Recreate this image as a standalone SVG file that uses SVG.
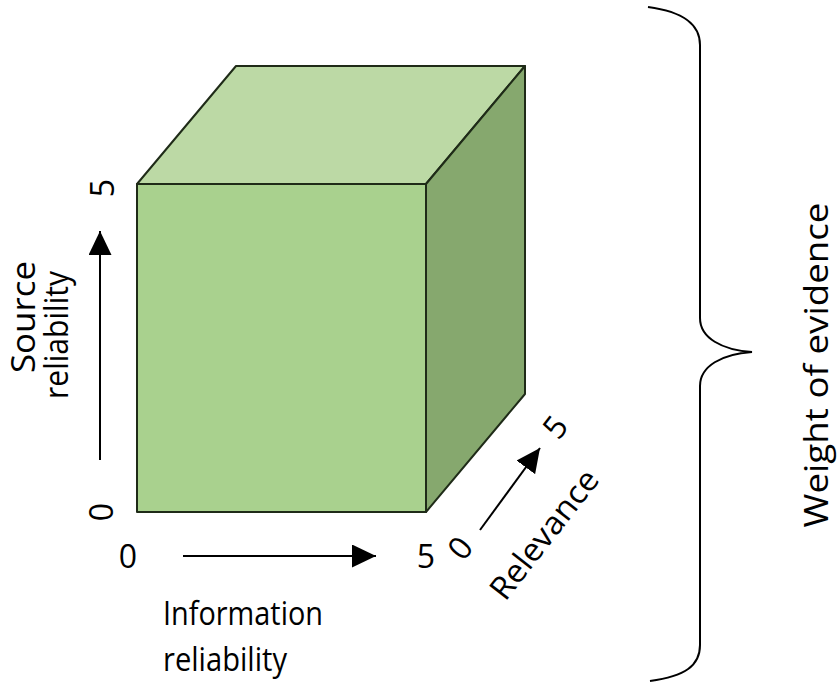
<svg xmlns="http://www.w3.org/2000/svg" width="837" height="685" viewBox="0 0 837 685">
  <style>
    .face { stroke: #1f2b18; stroke-width: 2; stroke-linejoin: round; }
    .axis { stroke: #000; stroke-width: 2; fill: none; marker-end: url(#ah); }
    .lbl { font-family: "Open Sans", "Liberation Sans", sans-serif; fill: #000; }
    .h { font-size: 32px; }
    .v { font-size: 32px; }
  </style>
  <defs>
    <marker id="ah" markerUnits="userSpaceOnUse" markerWidth="25" markerHeight="23" refX="24" refY="11.5" orient="auto">
      <path d="M0,0 L24,11.5 L0,23 z" fill="#000"/>
    </marker>
  </defs>
  <rect width="837" height="685" fill="#fff"/>

  <g id="cube">
    <polygon class="face" points="137,184 236,66 525,66 426,184" fill="#bcd9a5"/>
    <polygon class="face" points="426,184 525,66 525,394 426,512" fill="#86a86e"/>
    <rect class="face" x="137" y="184" width="289" height="328" fill="#a9d18e"/>
  </g>

  <g id="connectors">
    <line class="axis" x1="100" y1="460" x2="100" y2="231"/>
    <line class="axis" x1="183" y1="556" x2="376" y2="556"/>
    <line class="axis" x1="480" y1="530" x2="540" y2="448"/>
    <path id="brace" d="M648,7 C685,12 700,25 700,45 L700,318 C700,338 722,350 752,352 C722,354 700,366 700,386 L700,645 C700,666 685,676 650,681" fill="none" stroke="#000" stroke-width="2"/>
  </g>

  <g id="source-axis-labels">
    <text class="lbl v" text-anchor="middle" transform="translate(113.5,188) rotate(-90)">5</text>
    <text class="lbl v" text-anchor="middle" transform="translate(112.5,512) rotate(-90)">0</text>
    <text class="lbl v" text-anchor="middle" textLength="112" lengthAdjust="spacingAndGlyphs" transform="translate(35,317) rotate(-90)">Source</text>
    <text class="lbl v" text-anchor="middle" textLength="128" lengthAdjust="spacingAndGlyphs" transform="translate(68,335) rotate(-90)">reliability</text>
  </g>

  <g id="information-axis-labels">
    <text class="lbl h" x="128" y="568" text-anchor="middle">0</text>
    <text class="lbl h" x="426" y="568" text-anchor="middle">5</text>
    <text class="lbl h" x="163" y="625" textLength="160" lengthAdjust="spacingAndGlyphs">Information</text>
    <text class="lbl h" x="163" y="671" textLength="124" lengthAdjust="spacingAndGlyphs">reliability</text>
  </g>

  <g id="relevance-axis-labels">
    <text class="lbl v" text-anchor="middle" y="11.5" transform="translate(460,548) rotate(-52)">0</text>
    <text class="lbl v" text-anchor="middle" y="11.5" transform="translate(555,427) rotate(-52)">5</text>
    <text class="lbl v" text-anchor="middle" y="10" textLength="155" lengthAdjust="spacingAndGlyphs" transform="translate(545,535) rotate(-52)">Relevance</text>
  </g>

  <g id="weight-label">
    <text class="lbl v" text-anchor="middle" textLength="325" lengthAdjust="spacingAndGlyphs" transform="translate(828,365) rotate(-90)">Weight of evidence</text>
  </g>
</svg>
